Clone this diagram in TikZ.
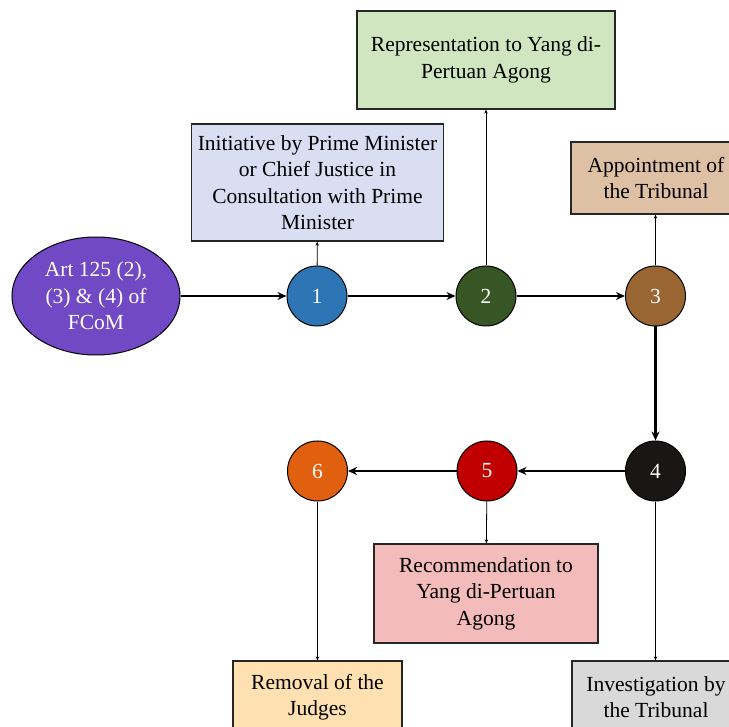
\documentclass[tikz,border=0pt]{standalone}
\usepackage{fontspec}
\setmainfont{Liberation Serif}
\usetikzlibrary{arrows.meta,shapes.geometric,positioning}

\definecolor{artpurple}{RGB}{113,73,196}
\definecolor{stepblue}{RGB}{46,117,182}
\definecolor{stepgreen}{RGB}{55,86,35}
\definecolor{stepbrown}{RGB}{153,102,51}
\definecolor{stepblack}{RGB}{26,22,22}
\definecolor{stepred}{RGB}{192,0,0}
\definecolor{steporange}{RGB}{224,96,16}
\definecolor{initfill}{RGB}{217,222,242}
\definecolor{repfill}{RGB}{208,230,192}
\definecolor{apptfill}{RGB}{222,192,164}
\definecolor{recfill}{RGB}{244,187,187}
\definecolor{remfill}{RGB}{255,224,176}
\definecolor{invfill}{RGB}{217,217,217}

\begin{document}
\begin{tikzpicture}[x=1pt,y=-1pt,
  every node/.style={font=\fontsize{21.5}{26.5}\selectfont},
  stepnode/.style={circle,draw=black,line width=1pt,minimum size=60pt,inner sep=0pt,text=white},
  infobox/.style={rectangle,draw=black!85,line width=1.3pt,align=center,inner sep=0pt},
  mainflow/.style={line width=2.6pt,-{Stealth[length=9pt,width=8pt]}},
  sideflow/.style={line width=0.8pt,-{Stealth[length=4pt,width=3.5pt]}}]
  \useasboundingbox (0,0) rectangle (729,727);
  \clip (0,0) rectangle (729,727);

  % source and numbered steps
  \node[ellipse,draw=black,line width=1pt,fill=artpurple,text=white,align=center,
        minimum width=168pt,minimum height=118pt,inner sep=0pt] (art) at (96,296)
        {Art 125 (2),\\(3) \& (4) of\\FCoM};
  \node[stepnode,fill=stepblue]   (s1) at (317,296) {1};
  \node[stepnode,fill=stepgreen]  (s2) at (486,296) {2};
  \node[stepnode,fill=stepbrown]  (s3) at (655.5,296) {3};
  \node[stepnode,fill=stepblack]  (s4) at (655.5,471) {4};
  \node[stepnode,fill=stepred]    (s5) at (487,471) {5};
  \node[stepnode,fill=steporange] (s6) at (317.5,471) {6};

  % text boxes
  \node[infobox,fill=initfill,minimum width=252pt,minimum height=117pt] (init) at (317.5,182.5)
        {Initiative by Prime Minister\\or Chief Justice in\\Consultation with Prime\\Minister};
  \node[infobox,fill=repfill,minimum width=258pt,minimum height=98pt] (rep) at (486,60)
        {Representation to Yang di-\\Pertuan Agong};
  \node[infobox,fill=apptfill,minimum width=170pt,minimum height=72pt] (appt) at (656,178)
        {Appointment of\\the Tribunal};
  \node[infobox,fill=recfill,minimum width=224pt,minimum height=99pt] (rec) at (486,593.5)
        {Recommendation to\\Yang di-Pertuan\\Agong};
  \node[infobox,fill=remfill,minimum width=169pt,minimum height=72pt] (rem) at (317.5,697)
        {Removal of the\\Judges};
  \node[infobox,fill=invfill,minimum width=168pt,minimum height=72pt] (inv) at (656,697)
        {Investigation by\\the Tribunal};

  % main flow
  \draw[mainflow] (art) -- (s1);
  \draw[mainflow] (s1) -- (s2);
  \draw[mainflow] (s2) -- (s3);
  \draw[mainflow] (s3) -- (s4);
  \draw[mainflow] (s4) -- (s5);
  \draw[mainflow] (s5) -- (s6);

  % side arrows
  \draw[sideflow] (s1) -- (init);
  \draw[sideflow] (s2) -- (rep);
  \draw[sideflow] (s3.north) -- (s3.north |- appt.south);
  \draw[sideflow] (s5) -- (rec);
  \draw[sideflow] (s6) -- (rem);
  \draw[sideflow] (s4.south) -- (s4.south |- inv.north);
\end{tikzpicture}
\end{document}
